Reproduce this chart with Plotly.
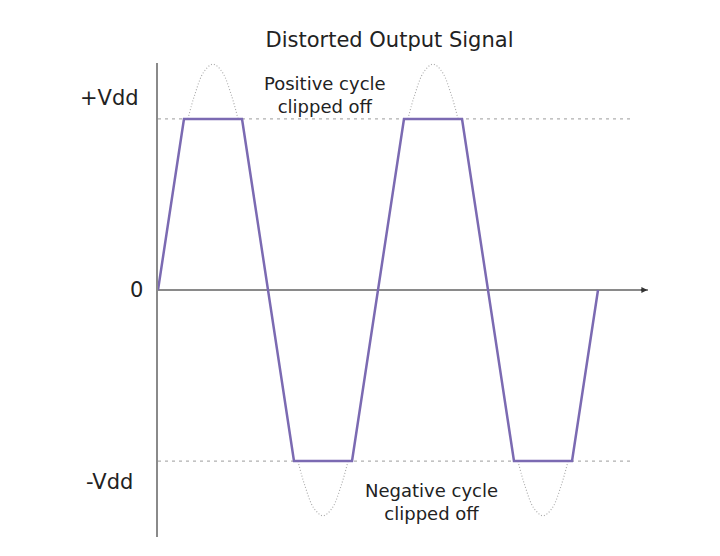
import plotly.graph_objects as go

# x in degrees of phase, y in units of Vdd
clip_x = [0, 42.5, 137.5, 222.5, 317.5, 402.5, 497.5, 582.5, 677.5, 720]
clip_y = [0, 1, 1, -1, -1, 1, 1, -1, -1, 0]

# unclipped (dotted) sine portions beyond the rails
arc_dx = [49, 60, 75, 90, 105, 120, 131]
arc_y = [1.0, 1.14, 1.275, 1.32, 1.275, 1.14, 1.0]
arc_starts = [0, 180, 360, 540]
arc_signs = [1, -1, 1, -1]

rail_x = [0, 777]
rail_levels = [1, -1]

level_labels = ["+Vdd", "0", "-Vdd"]
level_label_y = [1.123, 0, -1.123]
level_label_xpaper = [-0.0347, -0.0265, -0.0469]

FONT = "DejaVu Sans"
PURPLE = "#7b6ab2"

fig = go.Figure()

# rails (dashed)
for lv in rail_levels:
    fig.add_trace(go.Scatter(x=rail_x, y=[lv, lv], mode="lines",
                             line=dict(color="#b0b0b0", width=1.2, dash="3px,4px"),
                             hoverinfo="skip", showlegend=False))

# dotted sine arcs
sx, sy = [], []
for s0, sg in zip(arc_starts, arc_signs):
    sx += [s0 + d for d in arc_dx] + [None]
    sy += [sg * v for v in arc_y] + [None]
fig.add_trace(go.Scatter(x=sx, y=sy, mode="lines",
                         line=dict(color="#a8a8a8", width=1.1, dash="1px,2px", shape="spline"),
                         hoverinfo="skip", showlegend=False, connectgaps=False))

# clipped output
fig.add_trace(go.Scatter(x=clip_x, y=clip_y, mode="lines",
                         line=dict(color=PURPLE, width=2.5),
                         showlegend=False))

x_end = 801.8
fig.update_xaxes(range=[0, x_end], showgrid=False, zeroline=False,
                 showticklabels=False, showline=False)
fig.update_yaxes(range=[-1.444, 1.327], showgrid=False, zeroline=True,
                 zerolinecolor="#8a8a8a", zerolinewidth=2,
                 showticklabels=False, showline=True, linecolor="#8a8a8a",
                 linewidth=2)

for t, yv, xp in zip(level_labels, level_label_y, level_label_xpaper):
    fig.add_annotation(x=xp, xref="paper", y=yv, yref="y", text=t,
                       xanchor="right", yanchor="middle", showarrow=False,
                       font=dict(family=FONT, size=21, color="#222"))

notes = [
    dict(x=273, y=1.14, text="Positive cycle<br>clipped off"),
    dict(x=448, y=-1.24, text="Negative cycle<br>clipped off"),
]
for a in notes:
    fig.add_annotation(x=a["x"], y=a["y"], text=a["text"], xanchor="center",
                       yanchor="middle", showarrow=False,
                       font=dict(family=FONT, size=18, color="#222"))

# arrow tip at end of horizontal axis
fig.add_annotation(x=x_end - 1, y=0, ax=-8, ay=0, showarrow=True, arrowhead=2,
                   arrowsize=0.8, arrowwidth=1.5, arrowcolor="#333", text="")

fig.update_layout(
    width=720, height=556,
    margin=dict(l=158, r=720 - 158 - 490, t=63, b=19),
    paper_bgcolor="white", plot_bgcolor="white",
    title=dict(text="Distorted Output Signal", x=389.5 / 720, xanchor="center",
               y=(556 - 40) / 556, yanchor="middle",
               font=dict(family=FONT, size=21, color="#222")),
)

fig.write_html("out.html")
